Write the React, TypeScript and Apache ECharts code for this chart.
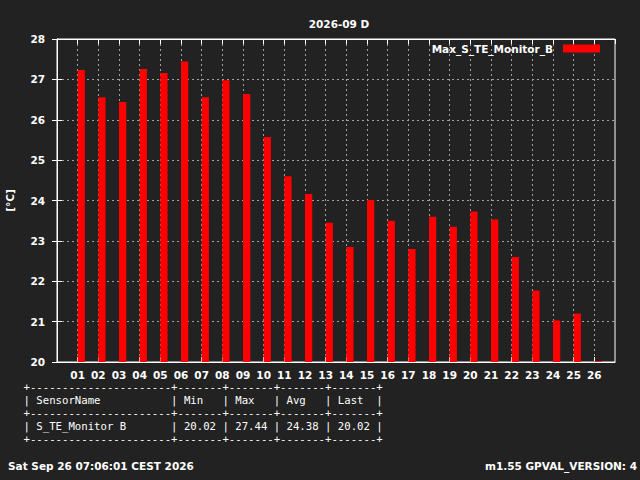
import React, { useEffect, useRef } from 'react';
import * as echarts from 'echarts';

const chartTitle = '2026-09 D';
const seriesName = 'Max_S_TE_Monitor_B';
const yAxisName = '[°C]';
const days = ['01', '02', '03', '04', '05', '06', '07', '08', '09', '10', '11', '12', '13', '14', '15', '16', '17', '18', '19', '20', '21', '22', '23', '24', '25', '26'];
const maxValues = [27.23, 26.56, 26.44, 27.26, 27.16, 27.44, 26.56, 26.98, 26.64, 25.57, 24.6, 24.16, 23.45, 22.85, 24.01, 23.5, 22.8, 23.6, 23.35, 23.73, 23.53, 22.6, 21.77, 21.03, 21.2, 20.02];
const yMin = 20;
const yMax = 28;
const yStep = 1;

const tableHeaders = ['SensorName', 'Min', 'Max', 'Avg', 'Last'];
const tableRow = ['S_TE_Monitor B', '20.02', '27.44', '24.38', '20.02'];
const tableColWidths = [20, 5, 5, 5, 5];

const footerLeft = 'Sat Sep 26 07:06:01 CEST 2026';
const footerRight = 'm1.55 GPVAL_VERSION: 4';

const BG = '#222222';
const FONT = 'DejaVu Sans';
const MONO = 'DejaVu Sans Mono';
const FS = 10.5;
const BAR_W = 0.35;

function pad(s: string, w: number) {
  return s + ' '.repeat(Math.max(0, w - s.length));
}
function rowLine(cells: string[]) {
  return '|' + cells.map((c, i) => ' ' + pad(c, tableColWidths[i]) + ' ').join('|') + '|';
}
function sepLine() {
  return '+' + tableColWidths.map((w) => '-'.repeat(w + 2)).join('+') + '+';
}

export default function App() {
  const ref = useRef<HTMLDivElement>(null);
  useEffect(() => {
    document.body.style.margin = '0';
    document.body.style.background = BG;
    const chart = echarts.init(ref.current!, null, { renderer: 'svg' });
    const tableLines = [sepLine(), rowLine(tableHeaders), sepLine(), rowLine(tableRow), sepLine()];
    const tableY = [387, 400.2, 413.4, 426.6, 439.8];
    const labelStyle = { color: '#ffffff', fontFamily: FONT, fontWeight: 'bold' as const, fontSize: FS };
    const gridLine = { show: true, lineStyle: { color: '#a0a0a0', type: [2, 3] as any, width: 1 } };
    chart.setOption({
      animation: false,
      backgroundColor: BG,
      title: {
        text: chartTitle,
        left: 334,
        top: 13,
        textAlign: 'center',
        textStyle: { ...labelStyle },
      },
      legend: {
        right: 40,
        top: 43,
        padding: 0,
        itemWidth: 37,
        itemHeight: 8,
        align: 'right',
        icon: 'rect',
        textStyle: { ...labelStyle, padding: [0, 5, 0, 0] },
        data: [{ name: seriesName, icon: 'rect', itemStyle: { color: '#ff0000' } }],
      },
      grid: {
        left: 57,
        top: 39,
        width: 558,
        height: 323,
        outerBoundsMode: 'none',
        containLabel: false,
        show: true,
        borderColor: '#ffffff',
        borderWidth: 1,
        backgroundColor: 'transparent',
      },
      xAxis: [
        {
          type: 'value',
          position: 'bottom',
          min: 0,
          max: days.length + 1,
          interval: 1,
          axisLine: { show: true, lineStyle: { color: '#ffffff' } },
          axisTick: { show: true, inside: true, length: 5, lineStyle: { color: '#ffffff' } },
          axisLabel: {
            ...labelStyle,
            margin: 7,
            showMinLabel: false,
            showMaxLabel: false,
            formatter: (v: number) => days[v - 1] ?? '',
          },
          splitLine: { ...gridLine, showMinLine: false, showMaxLine: false },
        },
        {
          type: 'value',
          position: 'top',
          min: 0,
          max: days.length + 1,
          interval: 1,
          axisLine: { show: true, lineStyle: { color: '#ffffff' } },
          axisTick: { show: true, inside: true, length: 5, lineStyle: { color: '#ffffff' } },
          axisLabel: { show: false },
          splitLine: { show: false },
        },
      ],
      yAxis: [
        {
          type: 'value',
          position: 'left',
          min: yMin,
          max: yMax,
          interval: yStep,
          name: yAxisName,
          nameLocation: 'middle',
          nameGap: 42,
          nameRotate: 90,
          nameTextStyle: { ...labelStyle },
          axisLine: { show: true, lineStyle: { color: '#ffffff' } },
          axisTick: { show: true, inside: true, length: 5, lineStyle: { color: '#ffffff' } },
          axisLabel: { ...labelStyle, margin: 12 },
          splitLine: { ...gridLine, showMinLine: false, showMaxLine: false },
        },
        {
          type: 'value',
          position: 'right',
          min: yMin,
          max: yMax,
          interval: yStep,
          axisLine: { show: true, lineStyle: { color: '#ffffff' } },
          axisTick: { show: true, inside: true, length: 5, lineStyle: { color: '#ffffff' } },
          axisLabel: { show: false },
          splitLine: { show: false },
        },
      ],
      series: [
        {
          type: 'custom',
          name: seriesName,
          xAxisIndex: 0,
          yAxisIndex: 0,
          itemStyle: { color: '#ff0000' },
          data: maxValues.map((v, i) => [i + 1, v]),
          renderItem: (params: any, api: any) => {
            const x = api.value(0);
            const y = api.value(1);
            const p0 = api.coord([x, y]);
            const p1 = api.coord([x + BAR_W, yMin]);
            return {
              type: 'rect',
              shape: { x: p0[0], y: p0[1], width: p1[0] - p0[0], height: p1[1] - p0[1] },
              style: { fill: '#ff0000' },
            };
          },
        },
      ],
      graphic: [
        ...tableLines.map((t, i) => ({
          type: 'text',
          left: 23.5,
          top: tableY[i] - 7,
          style: {
            text: t,
            fill: '#ffffff',
            font: `10.67px "${MONO}"`,
            lineHeight: 14,
          },
        })),
        {
          type: 'text',
          left: 8,
          top: 459,
          style: { text: footerLeft, fill: '#ffffff', font: `bold ${FS}px "${FONT}"`, lineHeight: 14 },
        },
        {
          type: 'text',
          right: 3,
          top: 459,
          style: { text: footerRight, fill: '#ffffff', font: `bold ${FS}px "${FONT}"`, lineHeight: 14 },
        },
      ],
    });
    return () => chart.dispose();
  }, []);
  return <div ref={ref} style={{ width: 640, height: 480, background: BG }} />;
}
